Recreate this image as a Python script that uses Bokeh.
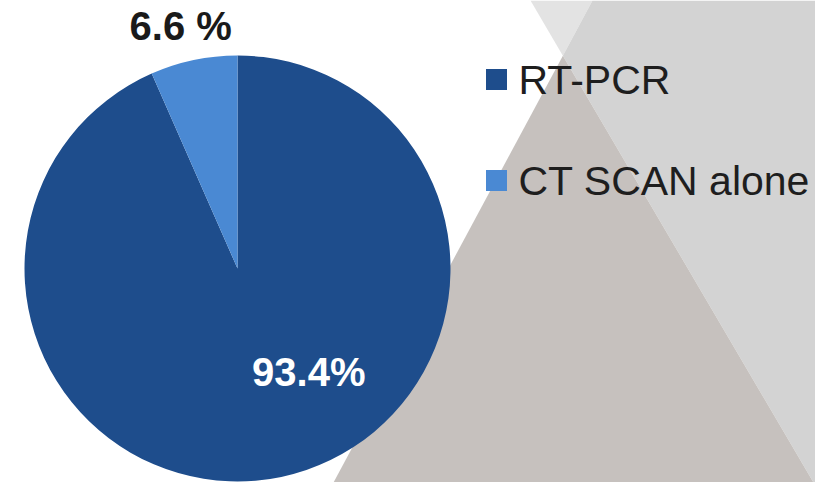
import math
from bokeh.plotting import figure
from bokeh.models import Range1d, ColumnDataSource
from bokeh.embed import file_html
from bokeh.resources import INLINE
from bokeh.core.properties import value

# ---------------- data ----------------
categories = ["RT-PCR", "CT SCAN alone"]
shares = [93.4, 6.6]
label_texts = ["93.4%", "6.6 %"]

# ---------------- style ----------------
colors = ["#1e4d8c", "#4a89d3"]
label_colors = ["#ffffff", "#1a1a1a"]
label_radius = [0.59, 1.17]      # fraction of pie radius
label_angle_shift = [22.7, 1.3]  # degrees added to slice mid-angle
W, H = 815, 482
FONT = "Liberation Sans"


def Y(y):
    return H - y


p = figure(width=W, height=H, x_range=Range1d(0, W), y_range=Range1d(0, H),
           output_backend="svg", toolbar_location=None, min_border=0)
p.axis.visible = False
p.grid.visible = False
p.outline_line_color = None
p.background_fill_color = "white"
p.border_fill_color = "white"

# ---------------- slide background (decorative triangles) ----------------
A_top, A_bot = (592, 0), (333, 482)
B_top, B_bot = (530, 0), (813, 482)


def line_x(a, b, y):
    return a[0] + (b[0] - a[0]) * (y - a[1]) / (b[1] - a[1])


# intersection of the two edges
lo, hi = 0.0, 482.0
for _ in range(60):
    mid = (lo + hi) / 2
    if line_x(A_top, A_bot, mid) > line_x(B_top, B_bot, mid):
        lo = mid
    else:
        hi = mid
iy = (lo + hi) / 2
ix = line_x(A_top, A_bot, iy)

bg_xs = [
    [B_top[0], A_top[0], ix],
    [A_top[0], W, W, B_bot[0], ix],
    [ix, A_bot[0], B_bot[0]],
]
bg_ys = [
    [Y(B_top[1]), Y(A_top[1]), Y(iy)],
    [Y(0), Y(0), Y(H), Y(B_bot[1]), Y(iy)],
    [Y(iy), Y(A_bot[1]), Y(B_bot[1])],
]
bg_cols = ["#e3e3e3", "#d3d3d3", "#c6c1be"]
p.patches(xs=bg_xs, ys=bg_ys, fill_color=bg_cols, line_color=None)

# ---------------- pie ----------------
cx, cy, R = 237, Y(268), 213
total = sum(shares)
starts, ends, mids = [], [], []
acc = 0.0
for s in shares:
    a0 = math.radians(90 - 360 * acc / total)
    acc += s
    a1 = math.radians(90 - 360 * acc / total)
    starts.append(a0)
    ends.append(a1)
    mids.append((a0 + a1) / 2)

src = ColumnDataSource(dict(cat=categories, share=shares, start=starts, end=ends,
                            color=colors))
p.wedge(x=cx, y=cy, radius=R, start_angle="start", end_angle="end",
        direction="clock", fill_color="color", line_color=None, source=src)

lx, ly = [], []
for m, rf, sh in zip(mids, label_radius, label_angle_shift):
    a = m + math.radians(sh)
    lx.append(cx + rf * R * math.cos(a))
    ly.append(cy + rf * R * math.sin(a))
p.text(x=lx, y=ly, text=label_texts, text_color=label_colors,
       text_font=value(FONT), text_font_style="bold", text_font_size="40px",
       text_align="center", text_baseline="middle")

# ---------------- legend ----------------
leg_x, leg_y0, leg_step = 496, 79, 101
leg_ys = [Y(leg_y0 + i * leg_step) for i in range(len(categories))]
p.scatter(x=[leg_x] * len(categories), y=leg_ys, marker="square", size=21,
          fill_color=colors, line_color=None)
p.text(x=[leg_x + 22] * len(categories), y=leg_ys, text=categories,
       text_color="#1e1e1e", text_font=value(FONT), text_font_size="41px",
       text_align="left", text_baseline="middle")

open("out.html", "w").write(file_html(p, INLINE))
